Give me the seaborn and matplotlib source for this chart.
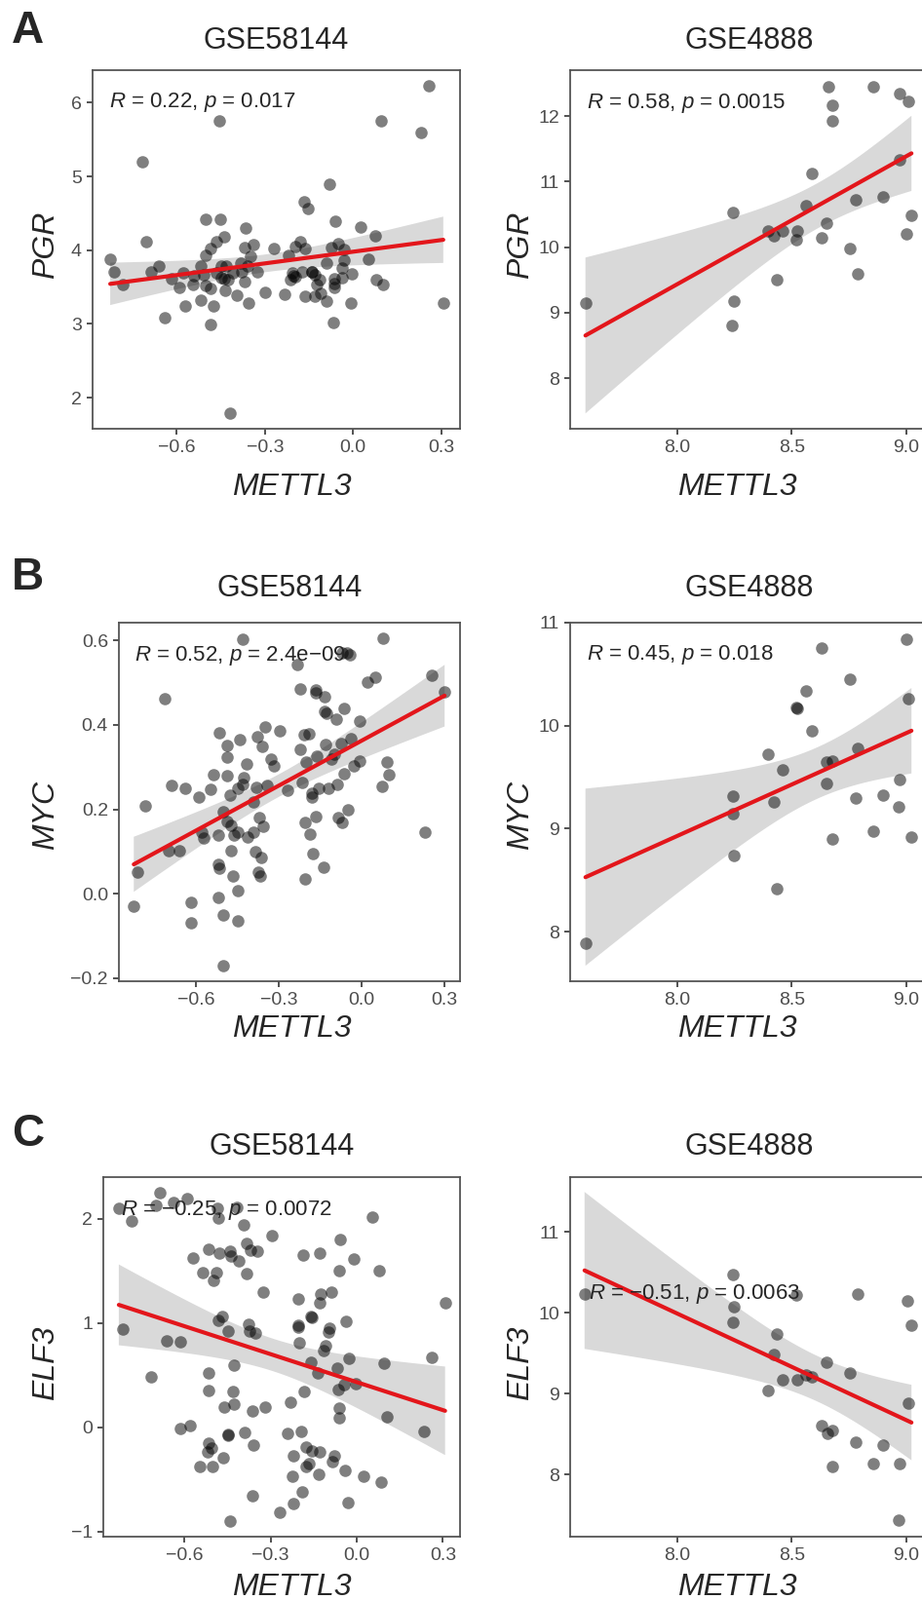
import matplotlib
matplotlib.use("Agg")
import matplotlib.pyplot as plt
import seaborn as sns
import numpy as np

# ---------------- data ----------------
# Panel A, GSE58144: METTL3 vs PGR
a58_x = [0.258, -0.454, 0.096, 0.231, -0.718, -0.080, -0.168, -0.152, -0.503, -0.451,
         -0.062, -0.366, 0.024, 0.074, -0.440, -0.465, -0.704, -0.338, -0.369, -0.487,
         -0.269, -0.179, -0.196, -0.163, -0.051, -0.075, -0.031, -0.503, -0.349, -0.220,
         -0.827, 0.052, -0.663, -0.520, -0.448, -0.432, -0.382, -0.360, -0.091, -0.031,
         -0.813, -0.688, -0.580, -0.542, -0.509, -0.465, -0.410, -0.378, -0.327, -0.207,
         -0.196, -0.174, -0.141, -0.130, -0.036, -0.003, -0.619, -0.448, -0.426, -0.371,
         -0.213, -0.113, -0.064, -0.036, 0.079, -0.784, -0.592, -0.545, -0.501, -0.484,
         -0.124, -0.064, 0.101, -0.437, -0.300, -0.232, -0.165, -0.130, -0.110, -0.396,
         -0.520, -0.091, -0.009, 0.307, -0.571, -0.476, -0.357, -0.641, -0.487, -0.067,
         -0.419, -0.205, -0.140, -0.065, -0.440]
a58_y = [6.23, 5.75, 5.75, 5.59, 5.20, 4.89, 4.66, 4.57, 4.42, 4.42,
         4.39, 4.30, 4.32, 4.20, 4.18, 4.12, 4.11, 4.07, 4.04, 4.02,
         4.02, 4.11, 4.05, 4.02, 4.09, 4.04, 4.01, 3.93, 3.92, 3.93,
         3.88, 3.88, 3.79, 3.79, 3.79, 3.78, 3.83, 3.78, 3.83, 3.86,
         3.71, 3.71, 3.69, 3.65, 3.67, 3.69, 3.69, 3.71, 3.71, 3.69,
         3.64, 3.71, 3.71, 3.67, 3.76, 3.68, 3.61, 3.63, 3.60, 3.58,
         3.60, 3.60, 3.61, 3.63, 3.60, 3.53, 3.50, 3.53, 3.52, 3.48,
         3.54, 3.49, 3.54, 3.46, 3.43, 3.40, 3.38, 3.38, 3.42, 3.39,
         3.32, 3.31, 3.29, 3.29, 3.24, 3.25, 3.29, 3.09, 2.99, 3.02,
         1.79, 3.66, 3.70, 3.55, 3.62]

# Panel A, GSE4888: METTL3 vs PGR
a48_x = [7.597, 8.242, 8.245, 8.239, 8.395, 8.423, 8.462, 8.436, 8.523, 8.519,
         8.561, 8.587, 8.632, 8.652, 8.661, 8.679, 8.679, 8.755, 8.779, 8.789,
         8.858, 8.900, 8.972, 9.011, 8.972, 9.004, 9.024]
a48_y = [9.15, 10.53, 9.17, 8.80, 10.25, 10.18, 10.25, 9.50, 10.25, 10.11,
         10.64, 11.13, 10.15, 10.37, 12.45, 12.16, 11.93, 9.98, 10.73, 9.59,
         12.44, 10.77, 12.34, 12.23, 11.33, 10.21, 10.48]

# Panel B, GSE58144: METTL3 vs MYC
b58_x = [-0.431, 0.077, -0.234, -0.071, -0.054, -0.041, -0.716, -0.222, -0.165, -0.168,
         -0.133, 0.020, 0.050, 0.256, 0.301, -0.133, -0.127, -0.063, -0.092, -0.006,
         -0.517, -0.350, -0.299, -0.210, -0.193, -0.379, -0.443, -0.488, -0.360, -0.131,
         -0.074, -0.039, -0.222, -0.488, -0.328, -0.320, -0.419, -0.162, -0.098, -0.111,
         -0.201, -0.009, 0.093, -0.030, 0.100, -0.537, -0.490, -0.429, -0.431, -0.450,
         -0.689, -0.641, -0.547, -0.384, -0.343, -0.269, -0.217, -0.155, -0.119, -0.089,
         -0.065, 0.073, -0.181, -0.181, -0.478, -0.591, -0.393, -0.785, -0.502, -0.050,
         -0.373, -0.165, -0.086, -0.072, -0.488, -0.356, -0.206, -0.473, -0.450, -0.465,
         -0.582, -0.573, -0.520, -0.413, -0.393, -0.189, 0.229, -0.700, -0.661, -0.473,
         -0.385, -0.364, -0.177, -0.813, -0.520, -0.517, -0.374, -0.368, -0.467, -0.204,
         -0.137, -0.450, -0.827, -0.618, -0.521, -0.620, -0.503, -0.450, -0.502]
b58_y = [0.602, 0.605, 0.543, 0.571, 0.571, 0.567, 0.463, 0.486, 0.483, 0.475,
         0.466, 0.501, 0.513, 0.517, 0.479, 0.433, 0.428, 0.438, 0.414, 0.410,
         0.382, 0.395, 0.387, 0.377, 0.379, 0.372, 0.366, 0.351, 0.349, 0.354,
         0.356, 0.368, 0.341, 0.323, 0.320, 0.303, 0.308, 0.326, 0.330, 0.318,
         0.313, 0.314, 0.313, 0.303, 0.282, 0.282, 0.280, 0.276, 0.260, 0.249,
         0.257, 0.249, 0.247, 0.253, 0.257, 0.245, 0.264, 0.249, 0.249, 0.260,
         0.284, 0.254, 0.239, 0.228, 0.234, 0.228, 0.218, 0.209, 0.195, 0.199,
         0.180, 0.184, 0.180, 0.169, 0.172, 0.159, 0.169, 0.161, 0.147, 0.138,
         0.146, 0.132, 0.138, 0.134, 0.146, 0.142, 0.146, 0.103, 0.103, 0.103,
         0.100, 0.086, 0.096, 0.052, 0.069, 0.061, 0.052, 0.042, 0.042, 0.036,
         0.064, 0.008, -0.029, -0.019, -0.008, -0.069, -0.050, -0.063, -0.169]

# Panel B, GSE4888: METTL3 vs MYC
b48_x = [7.597, 8.242, 8.242, 8.245, 8.395, 8.423, 8.436, 8.459, 8.520, 8.523,
         8.561, 8.587, 8.632, 8.652, 8.679, 8.651, 8.679, 8.755, 8.789, 8.779,
         8.858, 8.900, 8.972, 8.969, 9.004, 9.011, 9.024]
b48_y = [7.89, 9.32, 9.15, 8.74, 9.72, 9.26, 8.42, 9.57, 10.18, 10.17,
         10.34, 9.95, 10.75, 9.65, 9.66, 9.44, 8.90, 10.45, 9.78, 9.30,
         8.98, 9.33, 9.48, 9.21, 10.84, 10.26, 8.92]

# Panel C, GSE58144: METTL3 vs ELF3
c58_x = [-0.686, -0.828, -0.783, -0.700, -0.639, -0.590, -0.485, -0.482, -0.416, -0.392,
         -0.296, 0.055, -0.058, -0.516, -0.477, -0.440, -0.437, -0.412, -0.383, -0.369,
         -0.346, -0.571, -0.186, -0.128, -0.009, -0.536, -0.487, -0.499, -0.383, -0.061,
         0.078, -0.326, -0.126, -0.088, -0.205, -0.128, 0.308, -0.468, -0.482, -0.160,
         -0.155, -0.037, -0.813, -0.448, -0.377, -0.373, -0.352, -0.202, -0.202, -0.095,
         -0.097, -0.660, -0.615, -0.199, -0.109, -0.114, 0.262, -0.428, -0.160, -0.069,
         -0.027, 0.097, -0.135, -0.516, -0.717, -0.044, -0.065, -0.003, -0.516, -0.431,
         -0.182, -0.230, -0.428, -0.460, -0.364, -0.318, -0.061, -0.061, 0.104, -0.615,
         -0.581, 0.233, -0.448, -0.446, -0.390, -0.239, -0.194, -0.358, -0.516, -0.505,
         -0.518, -0.465, -0.177, -0.156, -0.129, -0.220, -0.078, -0.086, -0.165, -0.177,
         -0.545, -0.503, -0.039, -0.131, -0.222, 0.025, 0.084, -0.364, -0.191, -0.220,
         -0.029, -0.267, -0.441]
c58_y = [2.25, 2.10, 1.98, 2.13, 2.16, 2.19, 2.10, 2.01, 2.11, 1.94,
         1.84, 2.02, 1.80, 1.71, 1.67, 1.69, 1.64, 1.60, 1.76, 1.70,
         1.69, 1.62, 1.65, 1.67, 1.61, 1.48, 1.48, 1.41, 1.47, 1.50,
         1.50, 1.30, 1.28, 1.30, 1.23, 1.19, 1.19, 1.06, 1.03, 1.06,
         1.05, 1.02, 0.94, 0.92, 0.99, 0.92, 0.90, 0.98, 0.96, 0.95,
         0.91, 0.83, 0.82, 0.81, 0.78, 0.74, 0.67, 0.60, 0.62, 0.57,
         0.66, 0.61, 0.52, 0.52, 0.48, 0.41, 0.36, 0.42, 0.35, 0.34,
         0.34, 0.24, 0.22, 0.19, 0.16, 0.19, 0.18, 0.09, 0.10, -0.01,
         0.02, -0.04, -0.07, -0.08, -0.05, -0.06, -0.04, -0.17, -0.15, -0.20,
         -0.24, -0.29, -0.19, -0.23, -0.24, -0.27, -0.27, -0.33, -0.35, -0.38,
         -0.38, -0.38, -0.41, -0.45, -0.47, -0.47, -0.53, -0.66, -0.62, -0.73,
         -0.72, -0.82, -0.90]

# Panel C, GSE4888: METTL3 vs ELF3
c48_x = [7.593, 8.242, 8.245, 8.242, 8.434, 8.423, 8.395, 8.459, 8.523, 8.519,
         8.561, 8.587, 8.651, 8.632, 8.658, 8.679, 8.679, 8.755, 8.789, 8.779,
         8.858, 8.900, 8.972, 8.969, 9.007, 9.024, 9.011]
c48_y = [10.23, 10.47, 10.08, 9.88, 9.74, 9.48, 9.04, 9.17, 9.17, 10.22,
         9.23, 9.21, 9.39, 8.60, 8.51, 8.55, 8.10, 9.26, 10.23, 8.40,
         8.14, 8.36, 8.13, 7.43, 10.15, 9.85, 8.88]

titles = ["GSE58144", "GSE4888"]
genes = ["PGR", "MYC", "ELF3"]
panel_letters = ["A", "B", "C"]
x_label = "METTL3"
stats_text = [
    [r"$\mathit{R}$ = 0.22, $\mathit{p}$ = 0.017", r"$\mathit{R}$ = 0.58, $\mathit{p}$ = 0.0015"],
    [r"$\mathit{R}$ = 0.52, $\mathit{p}$ = 2.4e−09", r"$\mathit{R}$ = 0.45, $\mathit{p}$ = 0.018"],
    [r"$\mathit{R}$ = −0.25, $\mathit{p}$ = 0.0072", r"$\mathit{R}$ = −0.51, $\mathit{p}$ = 0.0063"],
]
xticks_58 = [-0.6, -0.3, 0.0, 0.3]
xtick_labels_58 = ["−0.6", "−0.3", "0.0", "0.3"]
xticks_48 = [8.0, 8.5, 9.0]
xtick_labels_48 = ["8.0", "8.5", "9.0"]
yticks = [
    [[2, 3, 4, 5, 6], [8, 9, 10, 11, 12]],
    [[-0.2, 0.0, 0.2, 0.4, 0.6], [8, 9, 10, 11]],
    [[-1, 0, 1, 2], [8, 9, 10, 11]],
]
ytick_labels = [
    [["2", "3", "4", "5", "6"], ["8", "9", "10", "11", "12"]],
    [["−0.2", "0.0", "0.2", "0.4", "0.6"], ["8", "9", "10", "11"]],
    [["−1", "0", "1", "2"], ["8", "9", "10", "11"]],
]
data = [
    [(a58_x, a58_y), (a48_x, a48_y)],
    [(b58_x, b58_y), (b48_x, b48_y)],
    [(c58_x, c58_y), (c48_x, c48_y)],
]

# ---------------- layout (pixels) ----------------
W, H = 946, 1642
sns.set_style("ticks")
plt.rcParams["font.family"] = ["Liberation Sans", "DejaVu Sans"]
plt.rcParams["mathtext.fontset"] = "custom"
plt.rcParams["mathtext.rm"] = "Liberation Sans"
plt.rcParams["mathtext.it"] = "Liberation Sans:italic"

fig = plt.figure(figsize=(W / 100, H / 100), dpi=100)
fig.patch.set_facecolor("white")

# (left, right, top, bottom) in pixels
boxes = [
    [(95, 472, 72, 440), (585, 953, 72, 440)],
    [(122, 472, 639, 1007), (585, 953, 639, 1007)],
    [(106, 472, 1208, 1577), (585, 953, 1208, 1577)],
]
limits = [
    [((-0.887, 0.364), (1.58, 6.44)), ((7.53, 9.10), (7.23, 12.70))],
    [((-0.881, 0.357), (-0.207, 0.642)), ((7.53, 9.10), (7.52, 11.0))],
    [((-0.882, 0.360), (-1.05, 2.40)), ((7.53, 9.10), (7.23, 11.68))],
]
title_y = [42, 604, 1177]
xlabel_y = [500, 1056, 1629]
xlabel_x = [299, 756]
ylabel_x = [47, 534]
ylabel_y = [251, 836, 1399]
letter_top = [10, 571, 1142]
stat_pos = [
    [(112, 105), (602, 106)],
    [(138, 673), (602, 672)],
    [(124, 1242), (604, 1328)],
]


def fx(px):
    return px / W


def fy(py):
    return 1 - py / H


def t975(df):
    # Cornish-Fisher expansion of the Student t 97.5% quantile
    z = 1.959963985
    return (z + (z**3 + z) / (4 * df)
            + (5 * z**5 + 16 * z**3 + 3 * z) / (96 * df**2)
            + (3 * z**7 + 19 * z**5 + 17 * z**3 - 15 * z) / (384 * df**3))


def lm_band(xs, ys, grid):
    x = np.asarray(xs, float)
    y = np.asarray(ys, float)
    n = len(x)
    b1, b0 = np.polyfit(x, y, 1)
    resid = y - (b0 + b1 * x)
    s = np.sqrt(np.sum(resid**2) / (n - 2))
    sxx = np.sum((x - x.mean())**2)
    se = s * np.sqrt(1.0 / n + (grid - x.mean())**2 / sxx)
    fit = b0 + b1 * grid
    t = t975(n - 2)
    return fit - t * se, fit + t * se


for r in range(3):
    fig.text(fx(12), fy(letter_top[r]), panel_letters[r], fontsize=33,
             fontweight="bold", ha="left", va="top")
    for c in range(2):
        l, rr, t, b = boxes[r][c]
        ax = fig.add_axes([fx(l), fy(b), (rr - l) / W, (b - t) / H])
        xs, ys = data[r][c]
        xa = np.array(xs)
        ya = np.array(ys)
        # confidence ribbon of the linear fit (t-based, as in ggplot geom_smooth)
        grid = np.linspace(xa.min(), xa.max(), 120)
        lo, hi = lm_band(xa, ya, grid)
        ax.fill_between(grid, lo, hi, facecolor="#D9D9D9", edgecolor="none", zorder=1)
        sns.regplot(x=xa, y=ya, ax=ax, ci=None, truncate=True,
                    scatter_kws=dict(color="black", alpha=0.5, s=82,
                                     linewidths=0, zorder=2),
                    line_kws=dict(color="#E3161B", lw=3.0, zorder=4))
        ax.set_xlim(*limits[r][c][0])
        ax.set_ylim(*limits[r][c][1])
        if c == 0:
            ax.set_xticks(xticks_58)
            ax.set_xticklabels(xtick_labels_58)
        else:
            ax.set_xticks(xticks_48)
            ax.set_xticklabels(xtick_labels_48)
        ax.set_yticks(yticks[r][c])
        ax.set_yticklabels(ytick_labels[r][c])
        ax.set_xlabel("")
        ax.set_ylabel("")
        for s in ax.spines.values():
            s.set_visible(True)
            s.set_color("#555555")
            s.set_linewidth(1.3)
        ax.tick_params(direction="out", length=4, width=1.2, color="#333333",
                       labelsize=14, labelcolor="#4D4D4D", pad=4,
                       bottom=True, left=True, top=False, right=False)
        ax.set_facecolor("white")

        # title, labels, statistics
        fig.text(fx((l + rr) / 2), fy(title_y[r]), titles[c], fontsize=22,
                 ha="center", va="center")
        fig.text(fx(xlabel_x[c]), fy(xlabel_y[r]), x_label, fontsize=23,
                 style="italic", ha="center", va="center")
        fig.text(fx(ylabel_x[c]), fy(ylabel_y[r]), genes[r], fontsize=23,
                 style="italic", ha="center", va="center", rotation=90)
        sx, sy = stat_pos[r][c]
        fig.text(fx(sx), fy(sy), stats_text[r][c], fontsize=16,
                 ha="left", va="center")

fig.savefig("out.png", dpi=100, facecolor="white")
